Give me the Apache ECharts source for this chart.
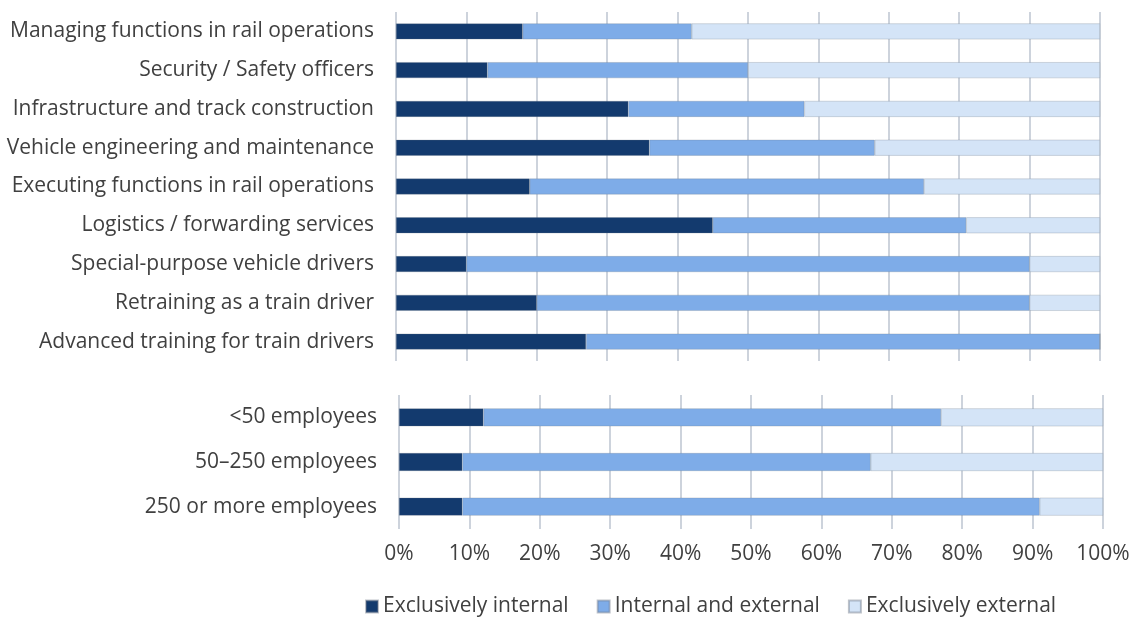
<!DOCTYPE html>
<html>
<head>
<meta charset="utf-8">
<script src="https://cdn.jsdelivr.net/npm/echarts@6/dist/echarts.min.js"></script>
<style>html,body{margin:0;padding:0;background:#fff}#c{width:1137px;height:617px}</style>
</head>
<body>
<div id="c"></div>
<script>
const topCategories = [
  "Managing functions in rail operations",
  "Security / Safety officers",
  "Infrastructure and track construction",
  "Vehicle engineering and maintenance",
  "Executing functions in rail operations",
  "Logistics / forwarding services",
  "Special-purpose vehicle drivers",
  "Retraining as a train driver",
  "Advanced training for train drivers"
];
const topInternal = [18, 13, 33, 36, 19, 45, 10, 20, 27];
const topBoth     = [24, 37, 25, 32, 56, 36, 80, 70, 73];
const topExternal = [58, 50, 42, 32, 25, 19, 10, 10, 0];

const bottomCategories = ["<50 employees", "50–250 employees", "250 or more employees"];
const bottomInternal = [12, 9, 9];
const bottomBoth     = [65, 58, 82];
const bottomExternal = [23, 33, 9];

const seriesNames = ["Exclusively internal", "Internal and external", "Exclusively external"];
const colors = ["#133a6e", "#7eace8", "#d4e4f7"];

const font = "'Open Sans', 'Noto Sans', sans-serif";
const textColor = "#404040";

const chart = echarts.init(document.getElementById('c'));

function mk(name, data, idx, color, width) {
  return {
    name: name, type: 'bar', stack: 's' + idx,
    xAxisIndex: idx, yAxisIndex: idx,
    data: data, barWidth: width,
    itemStyle: { color: color, borderColor: 'rgba(110,120,135,0.45)', borderWidth: 0.6 },
    emphasis: { disabled: true }, animation: false
  };
}

const splitLine = { show: true, lineStyle: { color: '#bcc5d0', width: 1.5 } };

chart.setOption({
  animation: false,
  textStyle: { fontFamily: font },
  color: colors,
  grid: [
    { left: 396, right: 37, top: 12, height: 349 },
    { left: 399, right: 34, top: 395, height: 134 }
  ],
  xAxis: [
    { gridIndex: 0, type: 'value', min: 0, max: 100, interval: 10,
      axisLabel: { show: false }, axisLine: { show: false }, axisTick: { show: false }, splitLine: splitLine },
    { gridIndex: 1, type: 'value', min: 0, max: 100, interval: 10,
      axisLabel: { show: true, formatter: '{value}%', fontSize: 21, color: textColor, margin: 15, fontFamily: font },
      axisLine: { show: false }, axisTick: { show: false }, splitLine: splitLine }
  ],
  yAxis: [
    { gridIndex: 0, type: 'category', inverse: true, data: topCategories,
      axisLine: { show: false }, axisTick: { show: false },
      axisLabel: { fontSize: 21, color: textColor, margin: 22, fontFamily: font } },
    { gridIndex: 1, type: 'category', inverse: true, data: bottomCategories,
      axisLine: { show: false }, axisTick: { show: false },
      axisLabel: { fontSize: 21, color: textColor, margin: 22, fontFamily: font } }
  ],
  legend: {
    data: seriesNames, top: 591, left: 360,
    icon: 'rect', itemWidth: 12, itemHeight: 12, itemGap: 28,
    textStyle: { fontSize: 21, color: textColor, fontFamily: font }
  },
  series: [
    mk(seriesNames[0], topInternal, 0, colors[0], 16),
    mk(seriesNames[1], topBoth, 0, colors[1], 16),
    mk(seriesNames[2], topExternal, 0, colors[2], 16),
    mk(seriesNames[0], bottomInternal, 1, colors[0], 18),
    mk(seriesNames[1], bottomBoth, 1, colors[1], 18),
    mk(seriesNames[2], bottomExternal, 1, colors[2], 18)
  ]
});
</script>
</body>
</html>
